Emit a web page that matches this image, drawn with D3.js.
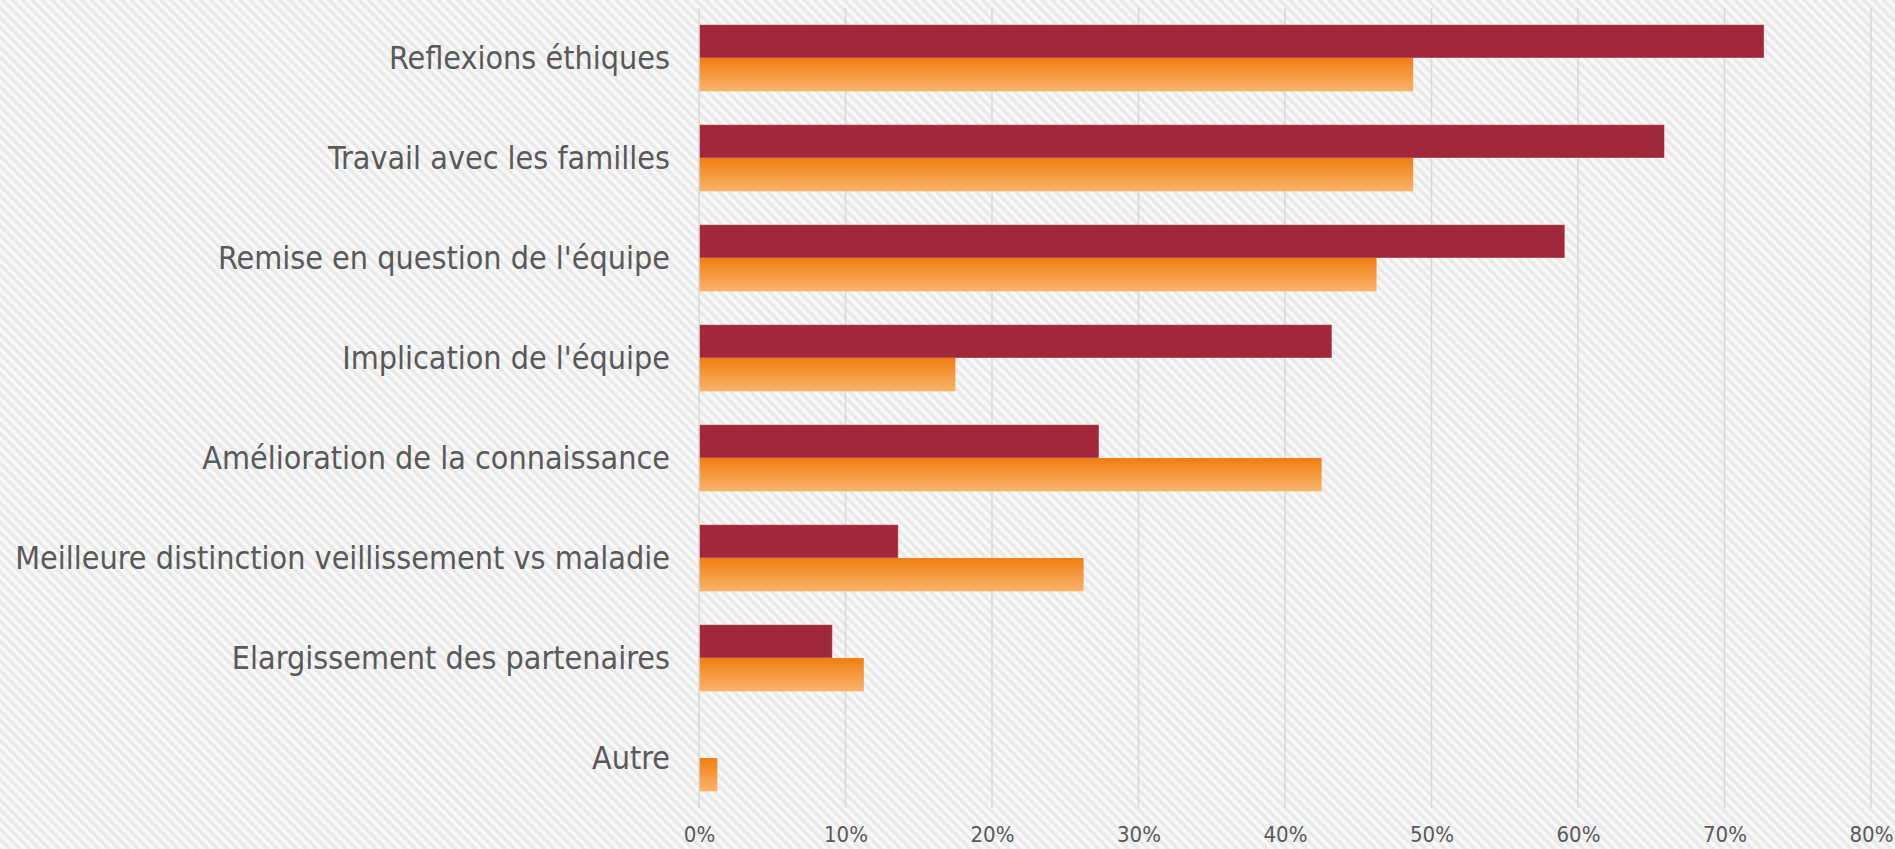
<!DOCTYPE html>
<html>
<head>
<meta charset="utf-8">
<script src="https://cdn.jsdelivr.net/npm/d3@7"></script>
<style>
  body { margin: 0; background: #f9f9f9; }
  text { font-family: 'DejaVu Sans Condensed', 'DejaVu Sans', sans-serif; fill: #595959; }
</style>
</head>
<body>
<script>
    const categories = [
        'Reflexions éthiques',
        'Travail avec les familles',
        "Remise en question de l'équipe",
        "Implication de l'équipe",
        'Amélioration de la connaissance',
        'Meilleure distinction veillissement vs maladie',
        'Elargissement des partenaires',
        'Autre'
    ]
    const seriesNames = ['Série 1', 'Série 2']
    const series1 = [72.7, 65.9, 59.1, 43.2, 27.3, 13.6, 9.1, 0]
    const series2 = [48.75, 48.75, 46.25, 17.5, 42.5, 26.25, 11.25, 1.25]
    const tickValues = [0, 10, 20, 30, 40, 50, 60, 70, 80]

    const width = 1895
    const height = 849
    const plot = { left: 699, right: 1871, top: 8, bottom: 808 }

    const rows = categories.map((c, i) => ({ category: c, values: [series1[i], series2[i]] }))

    const svg = d3.select('body')
    .append('svg')
    .attr('width', width)
    .attr('height', height)

    const defs = svg.append('defs')

    // diagonal striped background
    const stripes = defs.append('pattern')
    .attr('id', 'stripes')
    .attr('patternUnits', 'userSpaceOnUse')
    .attr('width', 7)
    .attr('height', 7)
    .attr('patternTransform', 'rotate(-45)')
    stripes.append('rect').attr('width', 7).attr('height', 7).attr('fill', '#f9f9f9')
    stripes.append('rect').attr('width', 3.5).attr('height', 7).attr('fill', '#e9e9e9')

    const grad = defs.append('linearGradient')
    .attr('id', 'orange')
    .attr('x1', 0).attr('y1', 0).attr('x2', 0).attr('y2', 1)
    grad.append('stop').attr('offset', '0%').attr('stop-color', '#f07e10')
    grad.append('stop').attr('offset', '100%').attr('stop-color', '#fab46c')

    svg.append('rect')
    .attr('width', width)
    .attr('height', height)
    .attr('fill', 'url(#stripes)')

    const xScale = d3.scaleLinear()
    .domain([0, 80])
    .range([plot.left, plot.right])

    const yScale = d3.scaleBand()
    .domain(categories)
    .range([plot.top, plot.bottom])
    .paddingInner(1 / 3)
    .paddingOuter(1 / 6)

    const ySub = d3.scaleBand()
    .domain(seriesNames)
    .range([0, yScale.bandwidth()])

    const colours = ['#a0283a', 'url(#orange)']

    // gridlines
    svg.append('g')
    .attr('id', 'grid')
    .selectAll('line')
    .data(tickValues.slice(1))
    .enter()
    .append('line')
    .attr('x1', (d) => xScale(d))
    .attr('x2', (d) => xScale(d))
    .attr('y1', plot.top)
    .attr('y2', plot.bottom)
    .attr('stroke', '#d9d9d9')
    .attr('stroke-width', 1.5)

    const groups = svg.append('g')
    .selectAll('g')
    .data(rows)
    .enter()
    .append('g')
    .attr('transform', (d) => `translate(0, ${yScale(d.category)})`)

    groups.selectAll('rect')
    .data((d) => d.values.map((v, i) => ({ name: seriesNames[i], value: v, i: i })))
    .enter()
    .append('rect')
    .filter((d) => d.value > 0)
    .attr('x', xScale(0))
    .attr('y', (d) => ySub(d.name))
    .attr('width', (d) => xScale(d.value) - xScale(0))
    .attr('height', ySub.bandwidth())
    .attr('fill', (d) => colours[d.i])
    .attr('stroke', (d) => d.i === 0 ? 'rgba(255,255,255,0.35)' : 'none')
    .attr('stroke-width', 1)

    // vertical axis line at 0
    svg.append('line')
    .attr('x1', xScale(0))
    .attr('x2', xScale(0))
    .attr('y1', plot.top)
    .attr('y2', plot.bottom)
    .attr('stroke', '#d9d9d9')
    .attr('stroke-width', 1.5)

    // category labels
    svg.append('g')
    .attr('id', 'y-axis')
    .selectAll('text')
    .data(categories)
    .enter()
    .append('text')
    .attr('x', plot.left - 29)
    .attr('y', (d) => yScale(d) + yScale.bandwidth() / 2 + 11)
    .attr('text-anchor', 'end')
    .style('font-size', '32px')
    .text((d) => d)

    // x tick labels
    const xAxis = svg.append('g')
    .attr('id', 'x-axis')
    .attr('transform', `translate(0, ${plot.bottom})`)
    .call(d3.axisBottom(xScale).tickValues(tickValues).tickFormat((d) => d + '%').tickSize(0).tickPadding(0))

    xAxis.select('.domain').remove()
    xAxis.selectAll('text')
    .attr('dy', null)
    .attr('y', 34)
    .attr('fill', '#595959')
    .style('font-size', '22px')
    .style('font-family', "'DejaVu Sans Condensed', sans-serif")
</script>
</body>
</html>
